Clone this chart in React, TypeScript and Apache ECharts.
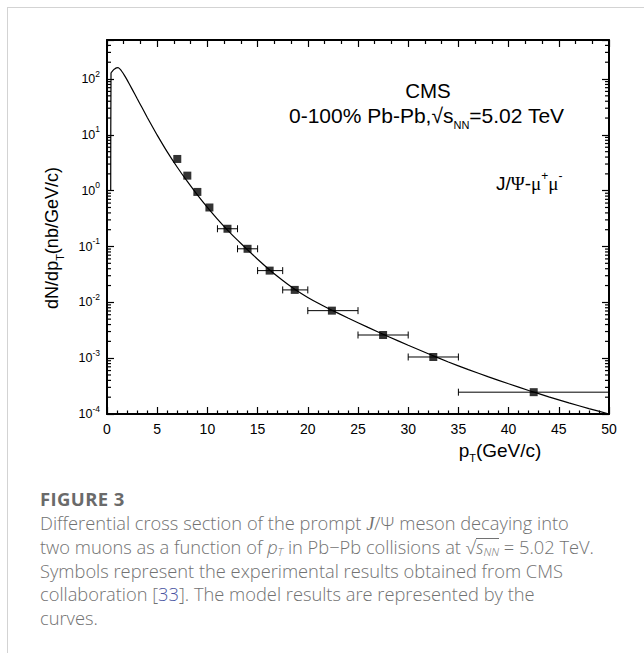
import React, { useEffect, useRef } from 'react';
import * as echarts from 'echarts';

// CMS data points (pT in GeV/c, dN/dpT in nb/(GeV/c))
const dataPT = [7, 8, 9, 10.2, 12, 14, 16.2, 18.7, 22.4, 27.5, 32.5, 42.5];
const dataYield = [3.7, 1.86, 0.95, 0.5, 0.208, 0.091, 0.037, 0.0167, 0.0071, 0.0026, 0.00105, 0.000246];
// horizontal (bin) error bars; null = no visible bar
const binLow = [null, null, null, null, 11, 13, 15, 17.5, 20, 25, 30, 35];
const binHigh = [null, null, null, null, 13, 15, 17.5, 20, 25, 30, 35, 50];

// model curve
const curvePT = [0.37, 0.4, 0.5, 0.65, 0.8, 0.95, 1.1, 1.3, 1.5, 1.75, 2.0, 2.5, 3, 3.5, 4, 4.5, 5, 6, 7, 8, 9, 10, 11, 12, 13, 14, 15, 16, 17, 18, 19, 20, 21, 22, 24, 26, 28, 30, 32, 34, 36, 38, 40, 42, 44, 46, 48, 50];
const curveVal = [1.0, 128, 136, 146, 153, 158, 160, 150, 135, 115, 96.6, 66, 44.7, 30.5, 20.7, 14.3, 9.89, 4.95, 2.63, 1.462, 0.841, 0.501, 0.309, 0.197, 0.13, 0.0871, 0.0592, 0.0409, 0.029, 0.0211, 0.0158, 0.01225, 0.00973, 0.00785, 0.00524, 0.00356, 0.00245, 0.0017, 0.0012, 0.000855, 0.000624, 0.000462, 0.000348, 0.000264, 0.000203, 0.000158, 0.000125, 0.0001];

// axes
const xMin = 0;
const xMax = 50;
const xStep = 5;
const yMin = 1e-4;
const yMax = 500;
const minorMultipliers = [2, 3, 4, 5, 6, 7, 8, 9];
const minorDecades = [1e-4, 1e-3, 1e-2, 1e-1, 1, 10, 100];

const SANS = '"Liberation Sans", Arial, Helvetica, sans-serif';
const SERIF = '"Liberation Serif", "Times New Roman", serif';

export default function App() {
  const ref = useRef<HTMLDivElement>(null);

  useEffect(() => {
    if (!ref.current) return;
    const chart = echarts.init(ref.current, undefined, { renderer: 'svg' });

    const points = dataPT.map((x, i) => [x, dataYield[i]]);
    const errData = dataPT
      .map((x, i) => [x, dataYield[i], binLow[i], binHigh[i]])
      .filter((d) => d[2] !== null);
    const curve = curvePT.map((x, i) => [x, curveVal[i]]);
    const minorVals: number[][] = [];
    minorDecades.forEach((d) => {
      minorMultipliers.forEach((m) => {
        const v = m * d;
        if (v <= yMax) minorVals.push([xMin, v]);
      });
    });

    const axisLine = { show: true, onZero: false, lineStyle: { color: '#000', width: 2 } };
    const tickStyle = { color: '#000', width: 1.2 };

    const yLabelFormatter = (v: number) => {
      const l = Math.log10(v);
      const e = Math.round(l);
      if (Math.abs(l - e) > 0.01) return '';
      return `{b|10}{sup|${e}}`;
    };

    const option: any = {
      animation: false,
      grid: { left: 107, top: 40, width: 502, height: 374, show: false },
      xAxis: [
        {
          type: 'value', min: xMin, max: xMax, interval: xStep, position: 'bottom',
          axisLine,
          axisTick: { show: true, inside: true, length: 7, lineStyle: tickStyle },
          minorTick: { show: true, splitNumber: 5, length: 3.5, lineStyle: tickStyle },
          axisLabel: { color: '#000', fontSize: 14, margin: 8, fontFamily: SANS },
          splitLine: { show: false },
          minorSplitLine: { show: false },
        },
        {
          type: 'value', min: xMin, max: xMax, interval: xStep, position: 'top',
          axisLine,
          axisTick: { show: true, inside: true, length: 7, lineStyle: tickStyle },
          minorTick: { show: true, splitNumber: 3, length: 4, lineStyle: tickStyle },
          axisLabel: { show: false },
          splitLine: { show: false },
          minorSplitLine: { show: false },
        },
      ],
      yAxis: [
        {
          type: 'log', logBase: 10, min: yMin, max: yMax, position: 'left',
          axisLine,
          axisTick: { show: true, inside: true, length: 7, lineStyle: tickStyle },
          axisLabel: {
            color: '#000', margin: 7, formatter: yLabelFormatter,
            rich: {
              b: { fontSize: 12.5, fontFamily: SANS, color: '#000', lineHeight: 20 },
              sup: { fontSize: 8.5, fontFamily: SANS, color: '#000', lineHeight: 10, verticalAlign: 'top' },
            },
          },
          splitLine: { show: false },
        },
        {
          type: 'log', logBase: 10, min: yMin, max: yMax, position: 'right',
          axisLine,
          axisTick: { show: true, inside: true, length: 7, lineStyle: tickStyle },
          axisLabel: { show: false },
          splitLine: { show: false },
        },
      ],
      series: [
        {
          type: 'line', data: curve, showSymbol: false, smooth: 0.2,
          lineStyle: { color: '#000', width: 1.2 }, silent: true, z: 2,
        },
        {
          type: 'custom', data: errData, silent: true, z: 3,
          renderItem: (params: any, api: any) => {
            const y = api.value(1);
            const p1 = api.coord([api.value(2), y]);
            const p2 = api.coord([api.value(3), y]);
            const h = 3.5;
            const st = { stroke: '#000', lineWidth: 1 };
            return {
              type: 'group',
              children: [
                { type: 'line', shape: { x1: p1[0], y1: p1[1], x2: p2[0], y2: p2[1] }, style: st },
                { type: 'line', shape: { x1: p1[0], y1: p1[1] - h, x2: p1[0], y2: p1[1] + h }, style: st },
                { type: 'line', shape: { x1: p2[0], y1: p2[1] - h, x2: p2[0], y2: p2[1] + h }, style: st },
              ],
            };
          },
        },
        {
          type: 'scatter', data: points, symbol: 'rect', symbolSize: 8,
          itemStyle: { color: '#000' }, silent: true, z: 4,
        },
        {
          type: 'custom', data: minorVals, silent: true, z: 5, clip: false,
          renderItem: (params: any, api: any) => {
            const v = api.value(1);
            const pl = api.coord([xMin, v]);
            const pr = api.coord([xMax, v]);
            const st = { stroke: '#000', lineWidth: 1.2 };
            return {
              type: 'group',
              children: [
                { type: 'line', shape: { x1: pl[0], y1: pl[1], x2: pl[0] + 4, y2: pl[1] }, style: st },
                { type: 'line', shape: { x1: pr[0] - 4, y1: pr[1], x2: pr[0], y2: pr[1] }, style: st },
              ],
            };
          },
        },
      ],
      graphic: [
        {
          type: 'text', x: 428, y: 90,
          style: { text: 'CMS', fill: '#000', fontSize: 20.5, fontFamily: SANS, align: 'center', verticalAlign: 'middle' },
        },
        {
          type: 'text', x: 289, y: 115,
          style: {
            text: '{a|0-100% Pb-Pb,√s}{s|NN}{a|=5.02 TeV}',
            align: 'left', verticalAlign: 'middle',
            rich: {
              a: { fontSize: 21, fontFamily: SANS, fill: '#000', lineHeight: 30 },
              s: { fontSize: 11, fontFamily: SANS, fill: '#000', lineHeight: 12, verticalAlign: 'bottom' },
            },
          },
        },
        {
          type: 'text', x: 496, y: 183,
          style: {
            text: '{a|J/}{g|Ψ}{a|-}{g|μ}{p|+}{g|μ}{p|-}',
            align: 'left', verticalAlign: 'middle',
            rich: {
              a: { fontSize: 19, fontFamily: SANS, fill: '#000', lineHeight: 26 },
              g: { fontSize: 19, fontFamily: SERIF, fill: '#000', lineHeight: 26 },
              p: { fontSize: 12, fontFamily: SANS, fill: '#000', lineHeight: 13, verticalAlign: 'top' },
            },
          },
        },
        {
          type: 'text', x: 500, y: 450,
          style: {
            text: '{a|p}{s|T}{a|(GeV/c)}',
            align: 'center', verticalAlign: 'middle',
            rich: {
              a: { fontSize: 19, fontFamily: SANS, fill: '#000', lineHeight: 26 },
              s: { fontSize: 11, fontFamily: SANS, fill: '#000', lineHeight: 12, verticalAlign: 'bottom' },
            },
          },
        },
        {
          type: 'text', x: 52, y: 238, rotation: Math.PI / 2,
          style: {
            text: '{a|dN/dp}{s|T}{a|(nb/GeV/c)}',
            align: 'center', verticalAlign: 'middle',
            rich: {
              a: { fontSize: 18, fontFamily: SANS, fill: '#000', lineHeight: 26 },
              s: { fontSize: 11, fontFamily: SANS, fill: '#000', lineHeight: 12, verticalAlign: 'bottom' },
            },
          },
        },
      ],
    };

    chart.setOption(option);
    return () => chart.dispose();
  }, []);

  const capFont = '"Open Sans", Lato, sans-serif';
  const gray = '#727272';
  const lineStyle: React.CSSProperties = { height: 23.75, lineHeight: '23.75px', whiteSpace: 'nowrap' };
  const subStyle: React.CSSProperties = { fontSize: '62%', position: 'relative', top: 2, verticalAlign: 'baseline', lineHeight: 0 };
  return (
    <div style={{ position: 'absolute', left: 0, top: 0, width: 644, height: 653, background: '#fff', overflow: 'hidden' }}>
      <div style={{ position: 'absolute', left: 7, top: 7, width: 700, height: 700, borderTop: '1px solid #d3d3d3', borderLeft: '1px solid #d3d3d3' }} />
      <div ref={ref} style={{ position: 'absolute', left: 0, top: 0, width: 644, height: 470 }} />
      <div style={{ position: 'absolute', left: 40, top: 487, fontFamily: capFont, color: gray }}>
        <div style={{ fontWeight: 700, fontSize: 18.5, height: 24, lineHeight: '24px', letterSpacing: '0.4px', color: '#6a6a6a' }}>FIGURE 3</div>
        <div style={{ fontWeight: 300, fontSize: 18.3 }}>
          <div style={lineStyle}>Differential cross section of the prompt <i style={{ fontFamily: SERIF }}>J</i>/Ψ meson decaying into</div>
          <div style={lineStyle}>two muons as a function of <i>p<span style={subStyle}>T</span></i> in Pb−Pb collisions at √<span style={{ borderTop: '1px solid ' + gray, lineHeight: '15px', display: 'inline-block' }}><i>s<span style={subStyle}>NN</span></i></span> = 5.02 TeV.</div>
          <div style={lineStyle}>Symbols represent the experimental results obtained from CMS</div>
          <div style={lineStyle}>collaboration [<span style={{ color: '#4a55a2' }}>33</span>]. The model results are represented by the</div>
          <div style={lineStyle}>curves.</div>
        </div>
      </div>
    </div>
  );
}
